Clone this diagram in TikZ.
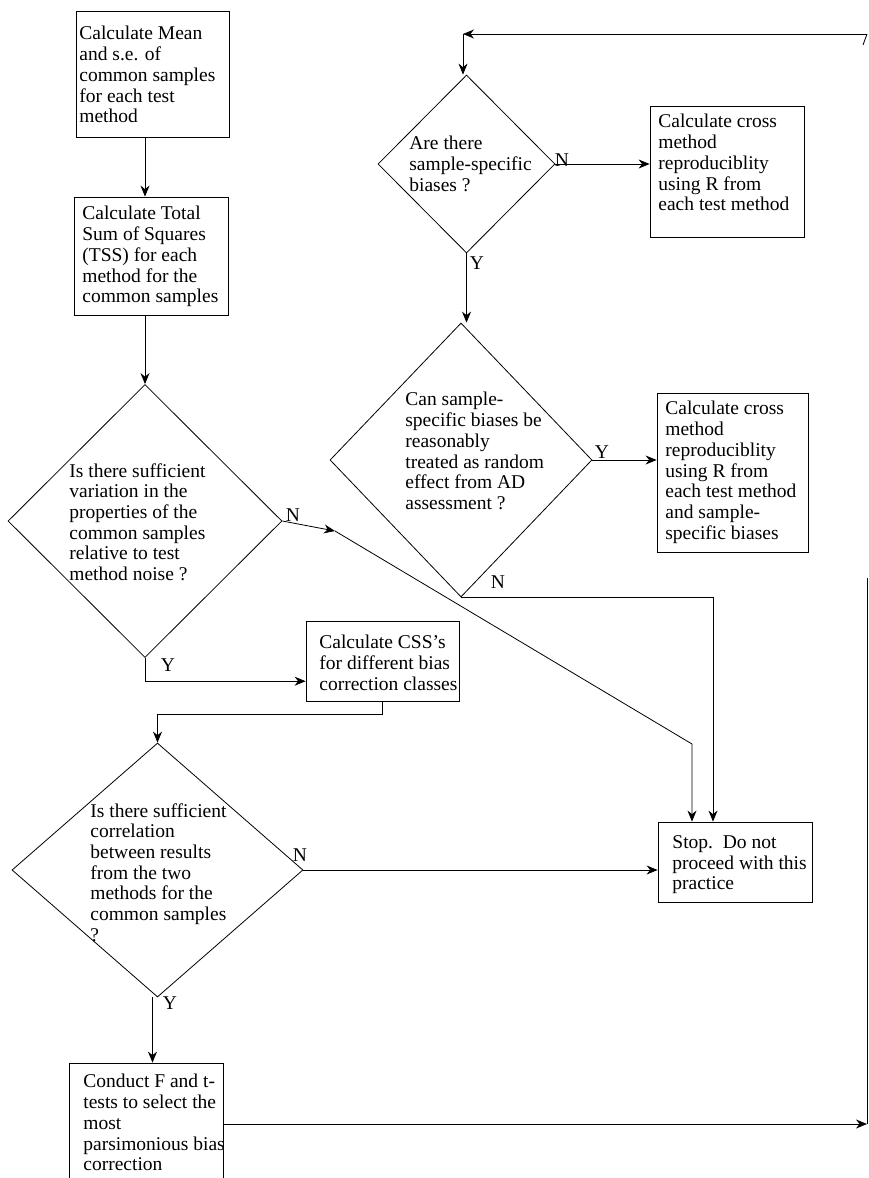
\documentclass[tikz,border=0pt]{standalone}
\usepackage{fontspec}
\setmainfont{Liberation Serif}
\usetikzlibrary{shapes.geometric,arrows.meta,calc}
\tikzset{
  procbox/.style={draw, rectangle, inner sep=0pt},
  decision/.style={draw, diamond, inner sep=0pt},
  boxtext/.style={align=left, inner sep=0pt, anchor=north west},
  yn/.style={inner sep=0pt},
  arr/.style={-{Stealth[length=11pt,width=9pt]}},
}
\begin{document}
\begin{tikzpicture}[x=1pt,y=-1pt,line width=0.8pt,font=\fontsize{19.5}{20.7}\selectfont]
    \useasboundingbox (0,0) rectangle (868,1178);
    % left column
    \node[procbox, minimum width=153pt, minimum height=126pt] (mean) at (152.5,74) {};
    \node[boxtext] (meantext) at (79,26) {Calculate Mean\\and s.e. of\\common samples\\for each test\\method};
    \node[procbox, minimum width=154pt, minimum height=118pt] (tss) at (151,256) {};
    \node[boxtext] (tsstext) at (82,206) {Calculate Total\\Sum of Squares\\(TSS) for each\\method for the\\common samples};
    \node[decision, minimum width=274pt, minimum height=273pt] (var) at (145,521) {};
    \node[boxtext] (vartext) at (69,463) {Is there sufficient\\variation in the\\properties of the\\common samples\\relative to test\\method noise ?};
    \node[procbox, minimum width=153pt, minimum height=80pt] (css) at (382.5,661) {};
    \node[boxtext] (csstext) at (319,635) {Calculate CSS’s\\for different bias\\correction classes};
    \node[decision, minimum width=291pt, minimum height=254pt] (corr) at (157.5,870) {};
    \node[boxtext] (corrtext) at (90,803) {Is there sufficient\\correlation\\between results\\from the two\\methods for the\\common samples\\?};
    \node[procbox, minimum width=154pt, minimum height=122pt] (ftest) at (146,1124) {};
    \node[boxtext] (ftesttext) at (83,1074) {Conduct F and t-\\tests to select the\\most\\parsimonious bias\\correction};
    % right column
    \node[decision, minimum width=177pt, minimum height=178pt] (bias) at (466.5,164) {};
    \node[boxtext] (biastext) at (409,136) {Are there\\sample-specific\\biases ?};
    \node[procbox, minimum width=154pt, minimum height=131pt] (repro) at (727,171.5) {};
    \node[boxtext] (reprotext) at (658,114) {Calculate cross\\method\\reproduciblity\\using R from\\each test method};
    \node[decision, minimum width=262pt, minimum height=274pt] (rand) at (461,460) {};
    \node[boxtext] (randtext) at (405,392) {Can sample-\\specific biases be\\reasonably\\treated as random\\effect from AD\\assessment ?};
    \node[procbox, minimum width=151pt, minimum height=159pt] (reprob) at (732.5,472.5) {};
    \node[boxtext] (reprobtext) at (665,401) {Calculate cross\\method\\reproduciblity\\using R from\\each test method\\and sample-\\specific biases};
    \node[procbox, minimum width=154pt, minimum height=80pt] (stop) at (735,862) {};
    \node[boxtext] (stoptext) at (672,835) {Stop.~~Do not\\proceed with this\\practice};
    % bends and edges
    \coordinate (nmid) at (335,531);
    \coordinate (nturn) at (692,744);
    \coordinate (topR) at (867,34);
    \coordinate (topL) at (463,34);
    \coordinate (rtop) at (867,578);
    % connectors
    \draw[arr] (mean.south -| var.north) -- (tss.north -| var.north);
    \draw[arr] (tss.south -| var.north) -- (var.north);
    \draw[arr] (var.east) -- (nmid);
    \draw[arr] (nmid) -- (nturn) -- (nturn |- stop.north);
    \draw[arr] (var.south) |- ($(css.south west)!0.25!(css.north west)$);
    \draw[arr] (css.south) -- ++(0,13) -| (corr.north);
    \draw[arr] (corr.east) -- (corr.east -| stop.west);
    \draw[arr] ($(corr.south)+(-5,0)$) -- ($(corr.south |- ftest.north)+(-5,0)$);
    \draw[arr] (ftest.east) -- (ftest.east -| rtop);
    \draw (ftest.east -| rtop) -- (rtop);
    \draw[arr] (topR) -- (topL);
    \draw[arr] (topL) -- (topL |- bias.north);
    \draw (topR) -- ++(-4,11);
    \draw[arr] (bias.east) -- (bias.east -| repro.west);
    \draw[arr] (bias.south) -- (bias.south |- rand.north);
    \draw[arr] (rand.east) -- (rand.east -| reprob.west);
    \draw[arr] (rand.south) -| ($(stop.north)+(-22,0)$);
    % Y / N labels
    \node[yn] (varN) at (293,515) {N};
    \node[yn] (varY) at (168,665) {Y};
    \node[yn] (corrN) at (300,855) {N};
    \node[yn] (corrY) at (170,1003) {Y};
    \node[yn] (biasN) at (562,160) {N};
    \node[yn] (biasY) at (477,263) {Y};
    \node[yn] (randY) at (602,452) {Y};
    \node[yn] (randN) at (498,582) {N};
\end{tikzpicture}
\end{document}
